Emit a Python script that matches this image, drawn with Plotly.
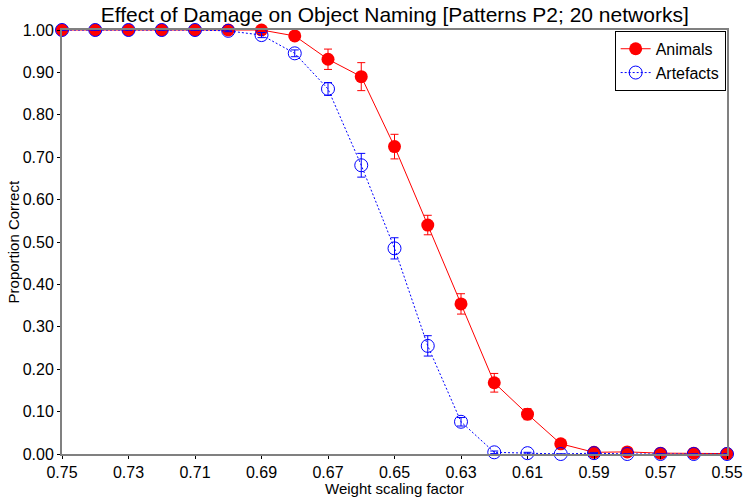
import plotly.graph_objects as go

# weight scaling factor (x axis runs from 0.75 down to 0.55)
scale = [0.75, 0.74, 0.73, 0.72, 0.71, 0.70, 0.69, 0.68, 0.67, 0.66, 0.65,
         0.64, 0.63, 0.62, 0.61, 0.60, 0.59, 0.58, 0.57, 0.56, 0.55]

animals = [1.0, 1.0, 1.0, 1.0, 1.0, 1.0, 1.0, 0.986, 0.931, 0.890, 0.725,
           0.540, 0.354, 0.168, 0.094, 0.024, 0.004, 0.005, 0.002, 0.002, 0.001]
animals_err = [0, 0, 0, 0, 0, 0, 0.002, 0.004, 0.024, 0.033, 0.029,
               0.023, 0.024, 0.022, 0.013, 0.004, 0.002, 0.002, 0.001, 0.001, 0.001]

artefacts = [1.0, 1.0, 1.0, 1.0, 1.0, 0.998, 0.988, 0.945, 0.861, 0.681, 0.485,
             0.255, 0.076, 0.004, 0.002, 0.0, 0.002, 0.0, 0.0, 0.0, 0.0]
artefacts_err = [0, 0, 0, 0, 0, 0.002, 0.006, 0.008, 0.015, 0.028, 0.025,
                 0.024, 0.010, 0.003, 0.002, 0, 0.001, 0, 0, 0, 0]

y_ticks = [0.0, 0.1, 0.2, 0.3, 0.4, 0.5, 0.6, 0.7, 0.8, 0.9, 1.0]
x_ticks = [0.75, 0.73, 0.71, 0.69, 0.67, 0.65, 0.63, 0.61, 0.59, 0.57, 0.55]

fig = go.Figure()

fig.add_trace(go.Scatter(
    x=scale, y=animals, name='Animals',
    mode='lines+markers',
    line=dict(color='red', width=1),
    marker=dict(size=13, color='red', symbol='circle'),
    error_y=dict(type='data', array=animals_err, color='red', thickness=1, width=4),
    cliponaxis=False,
))

fig.add_trace(go.Scatter(
    x=scale, y=artefacts, name='Artefacts',
    mode='lines+markers',
    line=dict(color='blue', width=1, dash='2px,2px'),
    marker=dict(size=13, color='blue', symbol='circle-open', line=dict(width=1)),
    error_y=dict(type='data', array=artefacts_err, color='blue', thickness=1, width=4),
    cliponaxis=False,
))

fig.update_layout(
    width=752, height=500,
    margin=dict(l=62, r=25, t=30, b=46, autoexpand=False),
    paper_bgcolor='white', plot_bgcolor='white',
    font=dict(family='Liberation Sans, Arial, sans-serif', size=15, color='black'),
    title=dict(text='Effect of Damage on Object Naming [Patterns P2; 20 networks]',
               x=0.525, xanchor='center', y=0.971, yanchor='middle',
               font=dict(size=21)),
    legend=dict(x=0.998, xanchor='right', y=0.998, yanchor='top',
                bordercolor='black', borderwidth=1, bgcolor='white',
                font=dict(size=16), tracegroupgap=0, itemwidth=30),
    showlegend=True,
    annotations=[
        dict(text='Proportion Correct', textangle=-90, xref='paper', yref='paper',
             x=-0.073, y=0.5, xanchor='center', yanchor='middle',
             showarrow=False, font=dict(size=15)),
        dict(text='Weight scaling factor', xref='paper', yref='paper',
             x=0.5, y=-0.082, xanchor='center', yanchor='middle',
             showarrow=False, font=dict(size=15)),
    ],
)

fig.update_xaxes(
    range=[0.75, 0.55], tickvals=x_ticks, ticktext=['%.2f' % v for v in x_ticks],
    showgrid=False, zeroline=False, automargin=False,
    showline=True, linecolor='#808080', linewidth=2, mirror=True,
    ticks='outside', ticklen=3, tickcolor='black', tickfont=dict(size=16),
)
fig.update_yaxes(
    range=[0, 1], tickvals=y_ticks, ticktext=['%.2f' % v for v in y_ticks],
    showgrid=False, zeroline=False, automargin=False,
    showline=True, linecolor='#808080', linewidth=2, mirror=True,
    ticks='outside', ticklen=3, tickcolor='black', tickfont=dict(size=16),
)

# drop the default 8px page margin so the figure fills the window exactly
fig.write_html('out.html', config={'displayModeBar': False},
               post_script="document.body.style.margin='0';")
